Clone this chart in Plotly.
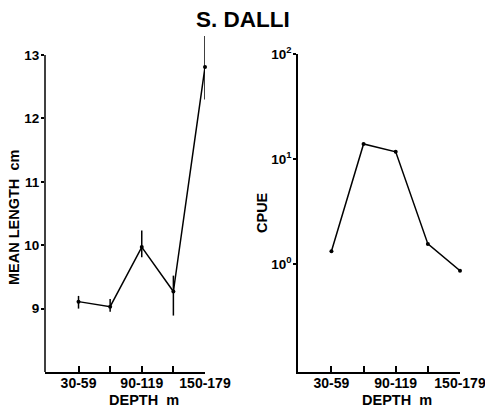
import plotly.graph_objects as go

# Depth strata (m)
depth = ["30-59", "60-89", "90-119", "120-149", "150-179"]
labelled_depths = ["30-59", "90-119", "150-179"]

# Mean length (cm) with range bars
mean_length = [9.11, 9.03, 9.97, 9.27, 12.81]
length_upper = [9.20, 9.15, 10.23, 9.52, 13.30]
length_lower = [9.00, 8.95, 9.81, 8.89, 12.30]

# Catch per unit effort
cpue = [1.32, 13.9, 11.7, 1.55, 0.86]

idx = list(range(len(depth)))
label_idx = [depth.index(d) for d in labelled_depths]
err_plus = [u - m for u, m in zip(length_upper, mean_length)]
err_minus = [m - l for m, l in zip(mean_length, length_lower)]

FONT = "Liberation Sans, Arial, sans-serif"
W, H = 485, 413
BOTTOM = 1 - 372 / H

# Left panel: the axis frame covers 8-13 cm, but the plotting area is a
# little taller (same scale) so the range bars can rise above the frame.
LEN_MIN, LEN_MAX = 8, 13
LEN_TOP_PX, DATA_TOP_PX = 55, 33
len_scale = (372 - LEN_TOP_PX) / (LEN_MAX - LEN_MIN)   # px per cm
data_top_val = LEN_MAX + (LEN_TOP_PX - DATA_TOP_PX) / len_scale
frame_frac = (LEN_MAX - LEN_MIN) / (data_top_val - LEN_MIN)

fig = go.Figure()

fig.add_trace(go.Scatter(
    x=idx, y=mean_length, mode="lines+markers",
    line=dict(color="black", width=1.5),
    marker=dict(color="black", size=4),
    error_y=dict(type="data", symmetric=False, array=err_plus,
                 arrayminus=err_minus, color="black", thickness=1.5, width=0),
    cliponaxis=False, xaxis="x", yaxis="y", showlegend=False,
))

fig.add_trace(go.Scatter(
    x=idx, y=cpue, mode="lines+markers",
    line=dict(color="black", width=1.5),
    marker=dict(color="black", size=4),
    cliponaxis=False, xaxis="x2", yaxis="y2", showlegend=False,
))

axis_common = dict(
    showline=True, linecolor="black", linewidth=1.5, showgrid=False,
    zeroline=False, ticks="outside", tickcolor="black", ticklen=3, tickwidth=1.5,
    tickfont=dict(family=FONT, size=13.5, color="black", weight="bold"),
    automargin=False, ticklabeloverflow="allow", ticklabelstandoff=-1,
)
xaxis_common = dict(axis_common)
xaxis_common.update(
    ticks="inside", ticklen=6, tickvals=label_idx, ticktext=labelled_depths,
    ticklabelstandoff=-3,
    tickfont=dict(family=FONT, size=14, color="black", weight="bold"),
    minor=dict(ticks="inside", tickvals=idx, ticklen=6, tickwidth=1.5,
               tickcolor="black", showgrid=False),
)

fig.update_layout(
    width=W, height=H,
    margin=dict(l=0, r=0, t=0, b=0),
    paper_bgcolor="white", plot_bgcolor="white",
    xaxis=dict(xaxis_common, domain=[45 / W, 205 / W], range=[-1.06, 4.0],
               anchor="y"),
    yaxis=dict(axis_common, showline=False, domain=[BOTTOM, 1 - DATA_TOP_PX / H],
               range=[LEN_MIN, data_top_val], tickvals=[9, 10, 11, 12, 13], anchor="x"),
    xaxis2=dict(xaxis_common, domain=[298 / W, 460 / W], range=[-1.04, 4.0],
                anchor="y2"),
    yaxis2=dict(axis_common, type="log", domain=[BOTTOM, 1 - 54 / H],
                range=[-1.03, 2], tickvals=[1, 10, 100],
                ticktext=["10<sup>0</sup>", "10<sup>1</sup>", "10<sup>2</sup>"],
                anchor="x2"),
)

# Left vertical axis line, drawn only over the 8-13 cm frame
fig.add_shape(type="line", xref="x domain", yref="y domain",
              x0=0, x1=0, y0=0, y1=frame_frac,
              line=dict(color="black", width=1.5))

labfont = dict(family=FONT, size=14.5, color="black", weight="bold")
ann = dict(xref="paper", yref="paper", showarrow=False,
           xanchor="center", yanchor="middle")
fig.add_annotation(text="<b>S. DALLI</b>", x=243 / W, y=1 - 19 / H,
                   font=dict(family=FONT, size=22.5, color="black"), **ann)
fig.add_annotation(text="MEAN LENGTH  cm", x=14 / W, y=1 - 218 / H,
                   textangle=-90, font=labfont, **ann)
fig.add_annotation(text="CPUE", x=262 / W, y=1 - 213 / H,
                   textangle=-90, font=labfont, **ann)
fig.add_annotation(text="DEPTH  m", x=144 / W, y=1 - 400 / H, font=labfont, **ann)
fig.add_annotation(text="DEPTH  m", x=397 / W, y=1 - 400 / H, font=labfont, **ann)

fig.write_html("out.html")
